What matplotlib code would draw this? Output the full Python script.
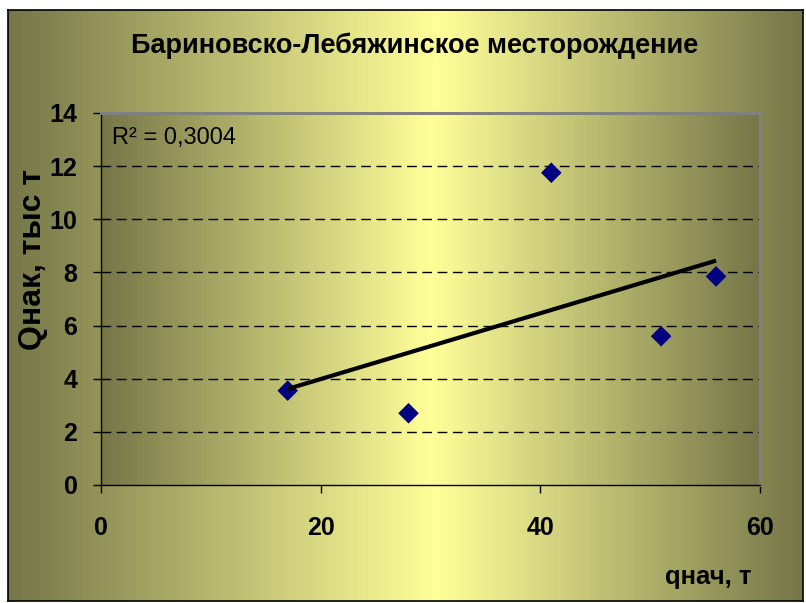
import numpy as np
import matplotlib
matplotlib.use("Agg")
import matplotlib.pyplot as plt
from matplotlib.colors import LinearSegmentedColormap

plt.rcParams["font.family"] = ["Liberation Sans", "DejaVu Sans"]

# Initial flow rate vs accumulated production
q_initial = [17, 28, 41, 51, 56]
Q_accum = [3.55, 2.7, 11.75, 5.6, 7.85]
r2_label = "R² = 0,3004"

title = "Бариновско-Лебяжинское месторождение"
x_label = "qнач, т"
y_label = "Qнак, тыс т"
x_ticks = [0, 20, 40, 60]
y_ticks = [0, 2, 4, 6, 8, 10, 12, 14]

W, H = 806, 603
fig = plt.figure(figsize=(W / 100, H / 100), dpi=100)

olive = LinearSegmentedColormap.from_list("olive", ["#767648", "#ffff99"])


def px_box(x0, y0, x1, y1):
    # pixel box (top-left origin) -> figure fraction rect
    return [x0 / W, 1 - y1 / H, (x1 - x0) / W, (y1 - y0) / H]


def hgrad(ax, centre):
    # horizontal "from centre" gradient, light in the middle
    t = np.linspace(0, 1, 400)
    v = np.where(t < centre, t / centre, (1 - t) / (1 - centre))
    ax.imshow(v[None, :], aspect="auto", cmap=olive, vmin=0, vmax=1,
              extent=[0, 1, 0, 1], transform=ax.transAxes, zorder=0)


# chart area background
bg = fig.add_axes(px_box(8, 10, 803, 601))
hgrad(bg, 0.54)
bg.set_xlim(0, 1)
bg.set_ylim(0, 1)
bg.set_xticks([])
bg.set_yticks([])
for s in bg.spines.values():
    s.set_color("black")
    s.set_linewidth(1.2)

# plot area
ax = fig.add_axes(px_box(101, 113, 760, 485))
ax.set_xlim(0, 60)
ax.set_ylim(0, 14)
pbg = ax.inset_axes([0, 0, 1, 1], zorder=-1)
hgrad(pbg, 0.5)
pbg.axis("off")
ax.patch.set_alpha(0)

for y in y_ticks[1:-1]:
    ax.axhline(y, color="black", lw=1, dashes=(7, 4), zorder=1)

ax.scatter(q_initial, Q_accum, marker="D", s=110, color="#000080",
           edgecolors="none", zorder=3)

slope, intercept = np.polyfit(q_initial, Q_accum, 1)
xs = np.array([min(q_initial), max(q_initial)])
ax.plot(xs, slope * xs + intercept, color="black", lw=3, zorder=4,
        solid_capstyle="butt")

ax.text(0.017, 0.962, r2_label, transform=ax.transAxes, ha="left", va="top",
        fontsize=17, color="black")

ax.set_xticks(x_ticks)
ax.set_yticks(y_ticks)
ax.tick_params(axis="both", direction="out", length=6, width=1,
               labelsize=18, colors="black")
ax.tick_params(axis="x", pad=16)
ax.tick_params(axis="y", pad=11)
for lab in ax.get_xticklabels() + ax.get_yticklabels():
    lab.set_fontweight("bold")

ax.spines["left"].set_color("black")
ax.spines["bottom"].set_color("black")
ax.spines["left"].set_linewidth(1)
ax.spines["bottom"].set_linewidth(1)
ax.spines["top"].set_color("#808080")
ax.spines["right"].set_color("#808080")
ax.spines["top"].set_linewidth(2.2)
ax.spines["right"].set_linewidth(2.2)

fig.text(415 / W, 1 - 53 / H, title, ha="center", va="baseline",
         fontsize=19.5, fontweight="bold")
fig.text(708 / W, 1 - 577 / H, x_label, ha="center", va="center",
         fontsize=18.5, fontweight="bold")
fig.text(33 / W, 1 - 260 / H, y_label, ha="center", va="center",
         rotation=90, fontsize=23, fontweight="bold")

fig.savefig("out.png", dpi=100)
